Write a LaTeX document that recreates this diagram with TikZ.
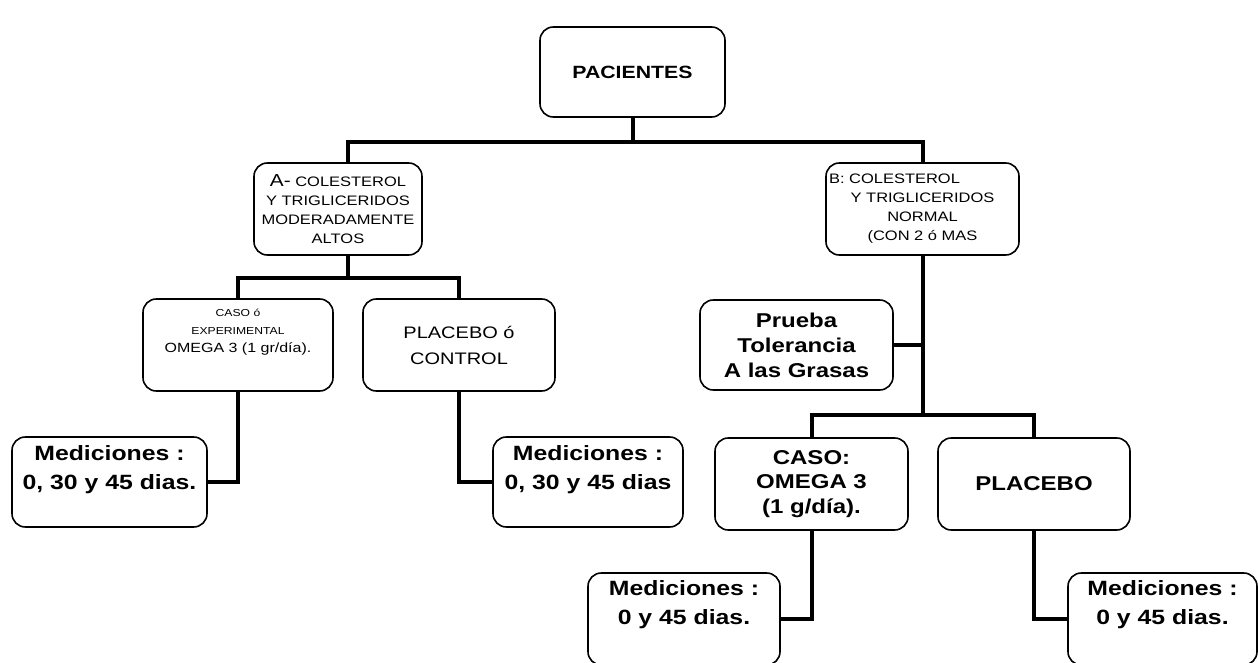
\documentclass[tikz,border=0pt]{standalone}
\usepackage{fontspec}
\setmainfont[FakeStretch=1.2]{Liberation Sans}
\usetikzlibrary{calc}
\begin{document}
\begin{tikzpicture}[x=0.75pt,y=-0.75pt,
  box/.style={draw, line width=1.2pt, rounded corners=10pt, inner sep=0pt, align=center},
  sz/.style 2 args={minimum width=#1*0.75pt, minimum height=#2*0.75pt},
  conn/.style={line width=3pt},
  txt/.style={inner sep=0pt, align=center},
  medf/.style={font=\bfseries\fontsize{15.5}{21.75}\selectfont},
  bigf/.style={font=\bfseries\fontsize{15}{18.6}\selectfont},
  pacf/.style={font=\bfseries\fontsize{13.3}{16}\selectfont},
  regf/.style={font=\fontsize{12.5}{19.5}\selectfont},
  smallf/.style={font=\fontsize{10.3}{14.25}\selectfont},
  tinyf/.style={font=\fontsize{7.6}{13.5}\selectfont}]
\useasboundingbox (0,0) rectangle (1258,663);
\fill[white] (0,0) rectangle (1258,663);

% boxes
\node[box,sz={185}{90},pacf] (pac) at (632.5,72) {PACIENTES};
\node[box,sz={168}{92},smallf] (A) at (338,209) {{\fontsize{13}{14}\selectfont A-} COLESTEROL\\Y TRIGLICERIDOS\\MODERADAMENTE\\ALTOS};
\node[box,sz={193}{92},smallf] (B) at (922.5,209) {B: COLESTEROL\hspace*{42pt}\\Y TRIGLICERIDOS\\NORMAL\\(CON 2 ó MAS};
\node[box,sz={190}{92}] (ce) at (238,345) {};
\node[txt,tinyf] (cet) at (238,332) {CASO ó\\EXPERIMENTAL\\{\fontsize{10}{13.5}\selectfont OMEGA 3 (1 gr/día).}};
\node[box,sz={192}{92},regf] (pc) at (459,345) {PLACEBO ó\\CONTROL};
\node[box,sz={193}{90},font=\bfseries\fontsize{15}{18.75}\selectfont] (pr) at (796.5,345) {Prueba\\Tolerancia\\A las Grasas};
\node[box,sz={195}{90}] (mL) at (109.5,482) {};
\node[txt,medf] (mLt) at (109.5,470) {Mediciones :\\0, 30 y 45 dias.};
\node[box,sz={190}{90}] (mM) at (588,482) {};
\node[txt,medf] (mMt) at (588,470) {Mediciones :\\0, 30 y 45 dias};
\node[box,sz={193}{92},font=\bfseries\fontsize{15}{18.4}\selectfont] (cs) at (811.5,484) {CASO:\\OMEGA 3\\(1 g/día).};
\node[box,sz={192}{92},bigf] (pl) at (1034,484) {PLACEBO};
\node[box,sz={192}{92}] (mBL) at (684,619) {};
\node[txt,medf] (mBLt) at (684,605) {Mediciones :\\0 y 45 dias.};
\node[box,sz={189}{92}] (mBR) at (1162.5,619) {};
\node[txt,medf] (mBRt) at (1162.5,605) {Mediciones :\\0 y 45 dias.};

% junctions
\coordinate (j1) at (632.5,142);
\coordinate (j2) at (348,278);
\coordinate (j3) at (922.5,415);

% connectors
\draw[conn] (pac.south) -- (j1);
\draw[conn] (A.north -| j2) |- (j1) -| (B.north);
\draw[conn] (A.south -| j2) -- (j2);
\draw[conn] (ce.north) |- (j2) -| (pc.north);
\draw[conn] (ce.south) |- (mL.east);
\draw[conn] (pc.south) |- (mM.west);
\draw[conn] (B.south) -- (j3);
\draw[conn] (pr.east) -- (pr.east -| B.south);
\draw[conn] (cs.north) |- (j3) -| (pl.north);
\draw[conn] (cs.south) |- (mBL.east);
\draw[conn] (pl.south) |- (mBR.west);
\end{tikzpicture}
\end{document}
